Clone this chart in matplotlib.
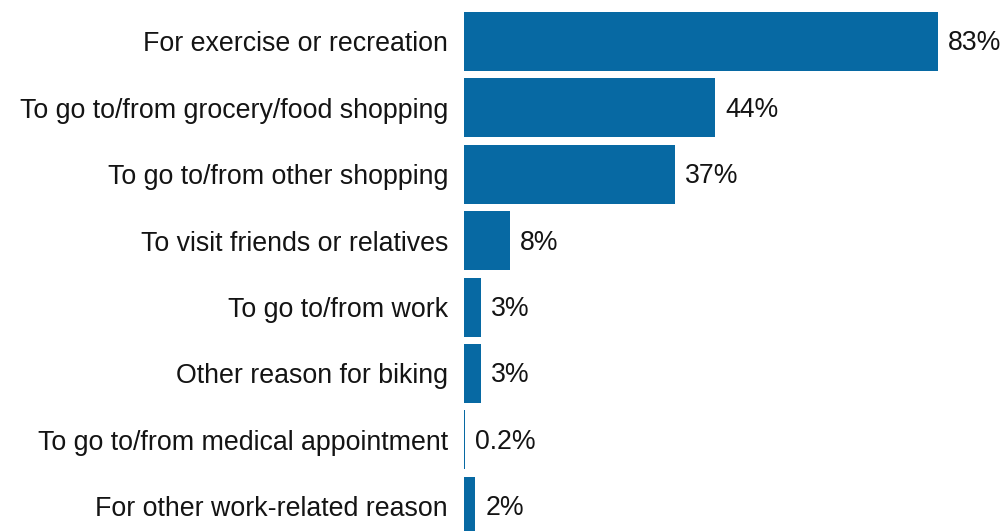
import matplotlib.pyplot as plt

reasons = [
    "For exercise or recreation",
    "To go to/from grocery/food shopping",
    "To go to/from other shopping",
    "To visit friends or relatives",
    "To go to/from work",
    "Other reason for biking",
    "To go to/from medical appointment",
    "For other work-related reason",
]
shares = [83, 44, 37, 8, 3, 3, 0.2, 2]
share_labels = ["83%", "44%", "37%", "8%", "3%", "3%", "0.2%", "2%"]

plt.rcParams['font.family'] = ['Liberation Sans', 'DejaVu Sans']

fig = plt.figure(figsize=(10.07, 5.31), dpi=100)
ax = fig.add_axes([464 / 1007, 0, 543 / 1007, 1])

pos = list(range(len(reasons)))
ax.barh(pos, shares, height=0.89, color='#0769a3')
for p, v, s in zip(pos, shares, share_labels):
    ax.text(v + 1.75, p + 0.03, s, va='center', ha='left', fontsize=19.2, color='#141414')

ax.set_xlim(0, 95.08)
ax.set_ylim(7.372, -0.625)
ax.set_yticks(pos)
ax.set_yticklabels(reasons, fontsize=19.3, color='#141414')
ax.tick_params(axis='y', length=0, pad=11.5)
ax.set_xticks([])
for sp in ax.spines.values():
    sp.set_visible(False)

fig.savefig('out.png', dpi=100)
